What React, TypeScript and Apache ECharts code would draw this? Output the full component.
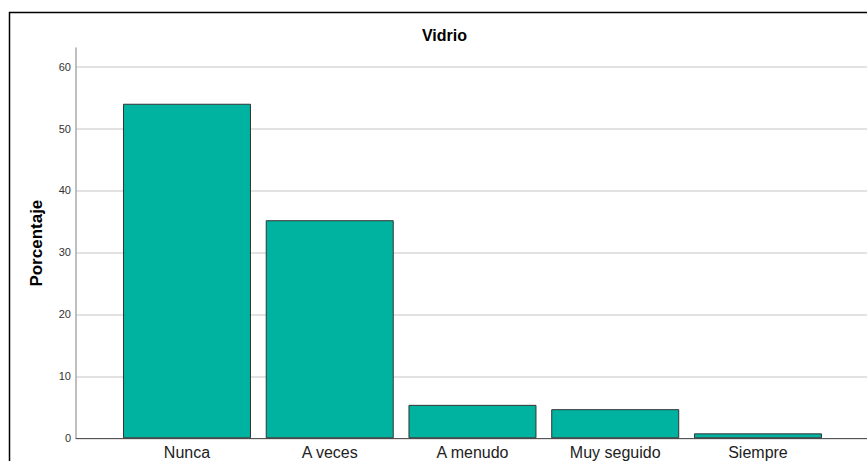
import React, { useEffect, useRef } from "react";
import * as echarts from "echarts";

const categories = ["Nunca", "A veces", "A menudo", "Muy seguido", "Siempre"];
const porcentaje = [54.0, 35.2, 5.4, 4.7, 0.8];
const yMax = 63;
const yInterval = 10;
const titleText = "Vidrio";
const yName = "Porcentaje";

export default function App() {
  const ref = useRef<HTMLDivElement>(null);
  useEffect(() => {
    if (!ref.current) return;
    const chart = echarts.init(ref.current, undefined, { renderer: "svg" });
    const font = "'Liberation Sans', Arial, sans-serif";
    chart.setOption({
      animation: false,
      backgroundColor: "#ffffff",
      graphic: [
        {
          type: "rect",
          shape: { x: 9.5, y: 12.5, width: 900, height: 500 },
          style: { fill: "none", stroke: "#000", lineWidth: 1.5 },
          silent: true,
          z: 100,
        },
        {
          type: "text",
          x: 444.5,
          y: 35,
          style: {
            text: titleText,
            fontFamily: font,
            fontSize: 16,
            fontWeight: "bold",
            fill: "#000",
            textAlign: "center",
            textVerticalAlign: "middle",
          },
          silent: true,
        },
      ],
      grid: [
        { left: 115.6, top: 48, width: 713.75, bottom: 22.7 },
        { left: 76, top: 48, width: 900, bottom: 22.7 },
      ],
      xAxis: [
        {
          type: "category",
          gridIndex: 0,
          data: categories,
          axisLine: { show: false },
          axisTick: { show: false },
          axisLabel: { fontFamily: font, fontSize: 16, color: "#222", margin: 6 },
        },
        {
          type: "value",
          gridIndex: 1,
          min: 0,
          max: 1,
          axisLine: { show: true, onZero: false, lineStyle: { color: "#555", width: 1 } },
          axisTick: { show: false },
          axisLabel: { show: false },
          splitLine: { show: false },
        },
      ],
      yAxis: [
        {
          type: "value",
          gridIndex: 0,
          min: 0,
          max: yMax,
          interval: yInterval,
          show: false,
        },
        {
          type: "value",
          gridIndex: 1,
          min: 0,
          max: yMax,
          interval: yInterval,
          name: yName,
          nameLocation: "middle",
          nameGap: 31,
          nameTextStyle: { fontFamily: font, fontSize: 17, fontWeight: "bold", color: "#000" },
          axisLine: { show: true, lineStyle: { color: "#aaaaaa", width: 1.5 } },
          axisTick: { show: false },
          axisLabel: {
            fontFamily: font,
            fontSize: 11,
            color: "#333",
            margin: 5,
            showMaxLabel: false,
            formatter: (v: number) => (v % yInterval === 0 ? String(v) : ""),
          },
          splitLine: { show: true, showMaxLine: false, lineStyle: { color: "#d9d9d9", width: 1.5 } },
        },
      ],
      series: [
        {
          type: "bar",
          xAxisIndex: 0,
          yAxisIndex: 0,
          data: porcentaje,
          barWidth: 128,
          itemStyle: { color: "#00B3A0", borderColor: "#333", borderWidth: 1 },
          z: 5,
        },
      ],
    });
    return () => chart.dispose();
  }, []);
  return (
    <div
      ref={ref}
      style={{ position: "fixed", left: 0, top: 0, width: 867, height: 461 }}
    />
  );
}
